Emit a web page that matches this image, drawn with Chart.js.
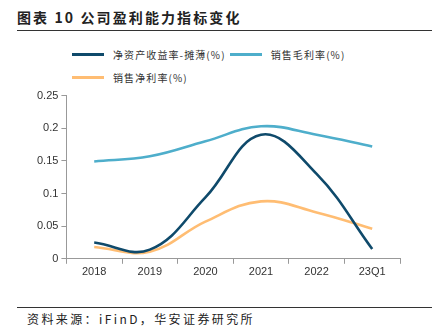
<!DOCTYPE html>
<html>
<head>
<meta charset="utf-8">
<script src="https://cdn.jsdelivr.net/npm/chart.js@4"></script>
<style>
  body { margin: 0; width: 432px; height: 328px; background: #fff; position: relative; overflow: hidden;
         font-family: "Noto Sans CJK SC", "Liberation Sans", sans-serif; color: #222; }
  #title { position: absolute; left: 17px; top: 7px; font-size: 14px; font-weight: bold; letter-spacing: 2.1px; }
  #topRule { position: absolute; left: 17px; right: 0; top: 30px; border-top: 1px solid #333; }
  #legend { position: absolute; left: 72px; top: 43px; width: 340px; font-size: 10px; color: #333; letter-spacing: 1.1px; }
  .item { display: inline-flex; align-items: center; height: 23px; margin-right: 4px; white-space: nowrap; }
  .swatch { display: inline-block; width: 32px; height: 3px; margin-right: 9px; }
  #wrap { position: absolute; left: 20px; top: 86px; width: 400px; height: 195px; }
  #botRule { position: absolute; left: 17px; right: 0; top: 307px; border-top: 1px solid #333; }
  #source { position: absolute; left: 27px; top: 310px; font-size: 12px; letter-spacing: 2.4px; color: #222; }
</style>
</head>
<body>
<div id="title">图表 10 公司盈利能力指标变化</div>
<div id="topRule"></div>
<div id="legend"></div>
<div id="wrap"><canvas id="profitChart"></canvas></div>
<div id="botRule"></div>
<div id="source">资料来源：iFinD，华安证券研究所</div>
<script>
const periods = ["2018", "2019", "2020", "2021", "2022", "23Q1"];
const roeDiluted = [0.025, 0.014, 0.094, 0.19, 0.13, 0.015];
const grossMargin = [0.149, 0.157, 0.18, 0.203, 0.19, 0.172];
const netMargin = [0.018, 0.011, 0.057, 0.088, 0.071, 0.046];
const yTicks = [0, 0.05, 0.1, 0.15, 0.2, 0.25];

const series = [
    { label: "净资产收益率-摊薄(%)", data: roeDiluted, color: "#0f4a6b" },
    { label: "销售毛利率(%)", data: grossMargin, color: "#4eaecb" },
    { label: "销售净利率(%)", data: netMargin, color: "#ffbd73" },
];

const el = document.getElementById("profitChart");
const chart = new Chart(el, {
    type: "line",
    data: {
        labels: periods,
        datasets: series.map((s) => ({
            label: s.label,
            data: s.data,
            borderColor: s.color,
            backgroundColor: s.color,
            borderWidth: 2.6,
            pointRadius: 0,
            tension: 0.4,
            fill: false,
        })),
    },
    options: {
        responsive: true,
        maintainAspectRatio: false,
        animation: false,
        layout: { padding: { top: 6, right: 20, left: 14, bottom: 0 } },
        plugins: {
            legend: { display: false },
            tooltip: { enabled: false },
        },
        scales: {
            x: {
                offset: true,
                border: { color: "#999", width: 1 },
                grid: { display: true, offset: true, drawOnChartArea: false, drawTicks: true, tickLength: 5, color: "#999" },
                ticks: { color: "#333", font: { family: "Liberation Sans", size: 11 }, padding: 2 },
            },
            y: {
                min: 0,
                max: 0.25,
                afterBuildTicks: (axis) => { axis.ticks = yTicks.map((v) => ({ value: v })); },
                border: { color: "#999", width: 1 },
                grid: { display: true, drawOnChartArea: false, drawTicks: true, tickLength: 5, color: "#999" },
                ticks: { color: "#333", font: { family: "Liberation Sans", size: 11 }, padding: 3,
                         callback: (v) => String(v) },
            },
        },
    },
});

// HTML legend built from the datasets
const legendEl = document.getElementById("legend");
chart.data.datasets.forEach((ds, i) => {
    const item = document.createElement("span");
    item.className = "item";
    item.innerHTML = '<span class="swatch" style="background:' + ds.borderColor + '"></span>' + ds.label;
    legendEl.appendChild(item);
    if (i === 1) legendEl.appendChild(document.createElement("br"));
});
</script>
</body>
</html>
